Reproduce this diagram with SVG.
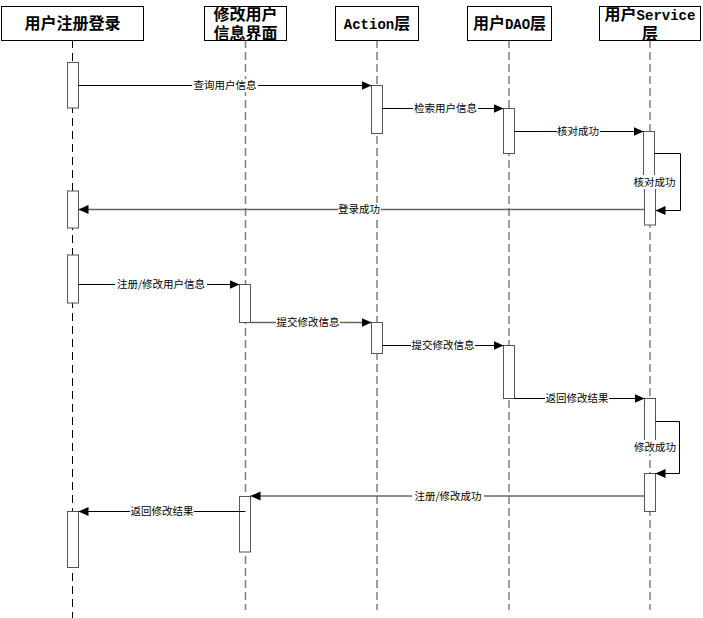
<svg xmlns="http://www.w3.org/2000/svg" width="703" height="618" viewBox="0 0 703 618">
<defs>
<style>
.hdr{fill:#fff;stroke:#000;stroke-width:1}
.ht{font-family:"Liberation Serif","Noto Sans CJK SC",serif;font-weight:bold;font-size:16px;fill:#000;text-anchor:middle}
.lat{font-family:"Liberation Mono",monospace;font-size:14px}
.life{stroke:#808080;stroke-width:1.5;stroke-dasharray:8 4;fill:none}
.life0{stroke:#000;stroke-width:1;stroke-dasharray:8 5;fill:none}
.act{fill:#fff;stroke:#555;stroke-width:1}
.msg{stroke:#000;stroke-width:1;fill:none;marker-end:url(#arr)}
.msgg{stroke:#666;stroke-width:1.5;fill:none;marker-end:url(#arr)}
.lb{font-family:"Noto Sans CJK SC","Noto Sans",sans-serif;font-size:10.5px;fill:#000;text-anchor:middle}
.bg{fill:#fff}
</style>
<marker id="arr" markerUnits="userSpaceOnUse" markerWidth="11" markerHeight="10" refX="10" refY="4.5" orient="auto">
<path d="M0,0 L10,4.5 L0,9 z" fill="#000"/>
</marker>
</defs>
<rect width="703" height="618" fill="#fff"/>

<g id="lifelines">
<line class="life0" x1="72.5" y1="40" x2="72.5" y2="618"/>
<line class="life" x1="245.5" y1="40" x2="245.5" y2="610"/>
<line class="life" x1="377" y1="40" x2="377" y2="610"/>
<line class="life" x1="509" y1="40" x2="509" y2="610"/>
<line class="life" x1="650" y1="40" x2="650" y2="610"/>
</g>

<g id="n1">
<rect class="hdr" x="1.5" y="6.5" width="142" height="34"/>
<text class="ht" x="72.5" y="29">用户注册登录</text>
</g>
<g id="n2">
<rect class="hdr" x="204.5" y="6.5" width="82" height="34"/>
<text class="ht" x="245.5" y="20">修改用户</text>
<text class="ht" x="245.5" y="39">信息界面</text>
</g>
<g id="n3">
<rect class="hdr" x="335.5" y="6.5" width="83" height="34"/>
<text class="ht" x="377" y="29"><tspan class="lat">Action</tspan>层</text>
</g>
<g id="n4">
<rect class="hdr" x="467.5" y="6.5" width="84" height="34"/>
<text class="ht" x="509.5" y="29">用户<tspan class="lat">DAO</tspan>层</text>
</g>
<g id="n5">
<rect class="hdr" x="599.5" y="6.5" width="101" height="34"/>
<text class="ht" x="650" y="20">用户<tspan class="lat">Service</tspan></text>
<text class="ht" x="650" y="39">层</text>
</g>

<g id="activations">
<rect class="act" x="67.5" y="62.5" width="11" height="45.5"/>
<rect class="act" x="67.5" y="191" width="11" height="37"/>
<rect class="act" x="67.5" y="255" width="11" height="48"/>
<rect class="act" x="67.5" y="511.5" width="11" height="56"/>
<rect class="act" x="239.5" y="284.5" width="11" height="38"/>
<rect class="act" x="239.5" y="496.5" width="11" height="55.5"/>
<rect class="act" x="371.5" y="85.5" width="11" height="48"/>
<rect class="act" x="371.5" y="322.5" width="11" height="31"/>
<rect class="act" x="503.5" y="108.5" width="11" height="45"/>
<rect class="act" x="503.5" y="345.5" width="11" height="53"/>
<rect class="act" x="643.5" y="131.5" width="11" height="55"/>
<rect class="act" x="644.5" y="186" width="11" height="39"/>
<rect class="act" x="644.5" y="398.5" width="11" height="54"/>
<rect class="act" x="644.5" y="473.5" width="11" height="38"/>
</g>

<g id="connectors">
<line class="msg" x1="78.5" y1="85.5" x2="371.5" y2="85.5"/>
<line class="msg" x1="382.5" y1="108.5" x2="503.5" y2="108.5"/>
<line class="msg" x1="514.5" y1="131.5" x2="643.5" y2="131.5"/>
<path class="msg" d="M654.5 153.5 H680.5 V210.5 H655.5"/>
<line class="msgg" x1="644" y1="209.5" x2="78.5" y2="209.5"/>
<line class="msg" x1="78.5" y1="284.5" x2="239.5" y2="284.5"/>
<line class="msgg" x1="250.5" y1="322.5" x2="371.5" y2="322.5"/>
<line class="msg" x1="382.5" y1="345.5" x2="503.5" y2="345.5"/>
<line class="msg" x1="514.5" y1="398.5" x2="644.5" y2="398.5"/>
<path class="msg" d="M655.5 421.5 H679.5 V473.5 H655.5"/>
<line class="msgg" x1="644.5" y1="496" x2="250.5" y2="496"/>
<line class="msg" x1="245.5" y1="511.5" x2="78.5" y2="511.5"/>
</g>

<g id="labels">
<rect class="bg" x="192" y="79" width="66" height="13"/>
<text class="lb" x="225" y="89">查询用户信息</text>
<rect class="bg" x="413" y="102" width="65" height="13"/>
<text class="lb" x="445.5" y="112">检索用户信息</text>
<rect class="bg" x="557" y="125" width="43" height="13"/>
<text class="lb" x="578" y="135">核对成功</text>
<rect class="bg" x="633" y="175" width="43" height="14"/>
<text class="lb" x="654.5" y="186">核对成功</text>
<rect class="bg" x="338" y="203" width="43" height="13"/>
<text class="lb" x="359" y="213">登录成功</text>
<rect class="bg" x="115" y="278" width="92" height="13"/>
<text class="lb" x="161" y="288">注册/修改用户信息</text>
<rect class="bg" x="276" y="316" width="64" height="13"/>
<text class="lb" x="308" y="326">提交修改信息</text>
<rect class="bg" x="411" y="339" width="64" height="13"/>
<text class="lb" x="443" y="349">提交修改信息</text>
<rect class="bg" x="545" y="392" width="64" height="13"/>
<text class="lb" x="577" y="402">返回修改结果</text>
<rect class="bg" x="633" y="440" width="44" height="14"/>
<text class="lb" x="655" y="451">修改成功</text>
<rect class="bg" x="412" y="489" width="72" height="13"/>
<text class="lb" x="448" y="499.5">注册/修改成功</text>
<rect class="bg" x="130" y="505" width="64" height="13"/>
<text class="lb" x="162" y="515">返回修改结果</text>
</g>
</svg>
